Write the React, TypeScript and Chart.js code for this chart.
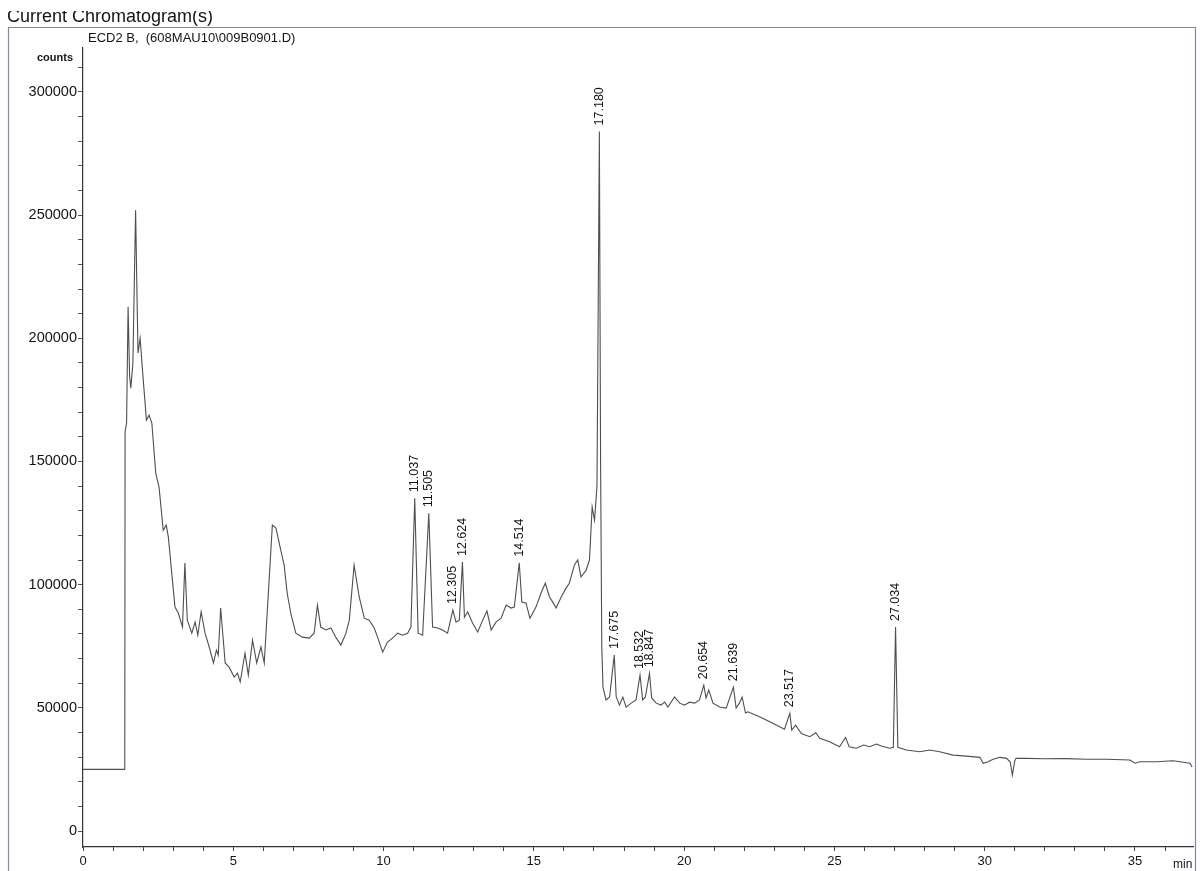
import React, { useEffect, useRef } from 'react';
import { Chart, registerables } from 'chart.js';

Chart.register(...registerables);

// Retention time (min)
const times = [
  0, 1.39, 1.40, 1.45, 1.50, 1.55, 1.59, 1.66, 1.75, 1.80, 1.83, 1.90, 1.98, 2.11, 2.20, 2.29, 2.42, 2.53,
  2.67, 2.77, 2.84, 3.06, 3.17, 3.31, 3.39, 3.47, 3.62, 3.73, 3.82, 3.93, 4.06, 4.20, 4.34, 4.44, 4.50,
  4.58, 4.73, 4.86, 5.03, 5.14, 5.23, 5.39, 5.50, 5.64, 5.78, 5.92, 6.03, 6.30, 6.42, 6.58, 6.69, 6.80,
  6.92, 7.08, 7.30, 7.53, 7.69, 7.80, 7.91, 8.08, 8.25, 8.41, 8.58, 8.75, 8.86, 9.02, 9.19, 9.36, 9.52,
  9.69, 9.80, 9.97, 10.13, 10.30, 10.47, 10.63, 10.80, 10.91, 11.037, 11.15, 11.30, 11.505, 11.63, 11.80,
  11.96, 12.13, 12.305, 12.41, 12.52, 12.624, 12.69, 12.80, 12.96, 13.13, 13.30, 13.44, 13.58, 13.74,
  13.91, 14.08, 14.24, 14.35, 14.514, 14.60, 14.74, 14.87, 15.07, 15.24, 15.38, 15.52, 15.63, 15.74,
  15.91, 16.07, 16.18, 16.35, 16.46, 16.57, 16.74, 16.85, 16.94, 17.02, 17.10, 17.18, 17.22, 17.26, 17.30,
  17.40, 17.52, 17.675, 17.74, 17.85, 17.96, 18.07, 18.24, 18.40, 18.532, 18.62, 18.71, 18.847, 18.92,
  19.07, 19.23, 19.35, 19.46, 19.68, 19.85, 20.01, 20.18, 20.35, 20.51, 20.654, 20.73, 20.82, 20.96,
  21.18, 21.40, 21.639, 21.73, 21.84, 21.93, 22.04, 22.12, 22.51, 22.95, 23.34, 23.517, 23.58, 23.71,
  23.90, 24.18, 24.38, 24.51, 24.84, 25.17, 25.37, 25.49, 25.73, 25.97, 26.17, 26.40, 26.56, 26.84,
  26.96, 27.034, 27.11, 27.39, 27.84, 28.17, 28.50, 28.95, 29.39, 29.84, 29.95, 30.11, 30.28, 30.50,
  30.73, 30.85, 30.92, 31.00, 31.04, 31.39, 32.00, 32.70, 33.40, 34.05, 34.83, 35.00, 35.16, 35.72,
  36.27, 36.83, 36.90,
];

// Detector response (counts)
const counts = [
  25000, 25000, 162000, 165600, 212800, 185000, 179800, 189900, 252000, 215000, 194000, 200000, 187000,
  166800, 168800, 165600, 145300, 139600, 122100, 124200, 119300, 90900, 88500, 82800, 108800, 85600,
  80300, 84800, 79500, 88900, 80300, 74700, 68200, 73400, 71400, 90500, 68200, 66500, 62500, 64100,
  60500, 72200, 63300, 77500, 68200, 74700, 68200, 124200, 123000, 114000, 108000, 96000, 88000, 80300,
  78700, 78300, 80300, 91700, 82800, 81600, 82400, 78700, 75500, 80300, 85600, 107900, 95000, 86400,
  85600, 82400, 78700, 72600, 76700, 78300, 80300, 79500, 80300, 82800, 135100, 80300, 79500, 129000,
  82800, 82400, 81600, 80300, 89700, 84800, 85600, 109200, 86800, 88900, 84400, 80800, 85600, 89300,
  81600, 84800, 86400, 91700, 90500, 90900, 108900, 92900, 92500, 86400, 90900, 96600, 100600, 95000,
  92900, 90500, 95000, 98600, 100600, 108000, 110000, 103100, 105900, 110000, 131500, 126200, 140000,
  284000, 150000, 75000, 58400, 53200, 54400, 71400, 54400, 51100, 54400, 50300, 51900, 53200, 63300,
  53200, 54400, 64000, 54000, 51900, 51100, 52300, 50300, 54400, 51900, 51100, 52300, 51900, 53200,
  59200, 54000, 57200, 51900, 50300, 49900, 58400, 49900, 51900, 54400, 47900, 48400, 46400, 43700,
  41300, 47800, 41000, 43000, 39600, 38300, 39900, 37600, 36200, 34200, 38000, 34200, 33600, 34900,
  34200, 35300, 34500, 33600, 34000, 82800, 34000, 32900, 32200, 32900, 32200, 30800, 30400, 29900,
  27500, 28100, 29100, 29900, 29500, 28000, 22700, 28500, 29500, 29500, 29300, 29400, 29100, 29100,
  28800, 27500, 28100, 28100, 28500, 27500, 26000,
];

// Integrated peaks
const peakLabels = ['11.037', '11.505', '12.305', '12.624', '14.514', '17.180', '17.675', '18.532', '18.847', '20.654', '21.639', '23.517', '27.034'];
const peakTimes = [11.037, 11.505, 12.305, 12.624, 14.514, 17.18, 17.675, 18.532, 18.847, 20.654, 21.639, 23.517, 27.034];
const peakCounts = [135100, 129000, 89700, 109200, 108900, 284000, 71400, 63300, 64000, 59200, 58400, 47800, 82800];

const xMajorTicks = [0, 5, 10, 15, 20, 25, 30, 35];
const yMajorTicks = [0, 50000, 100000, 150000, 200000, 250000, 300000];
const yMinorStep = 10000;
const yTickTop = 310000;

const titleText = 'Current Chromatogram(s)';
const signalText = 'ECD2 B,  (608MAU10\\009B0901.D)';
const yUnit = 'counts';
const xUnit = 'min';

const FONT = '"Liberation Sans", Arial, Helvetica, sans-serif';

const decorPlugin = {
  id: 'decor',
  beforeDraw(chart: any) {
    const { ctx } = chart;
    ctx.save();
    ctx.strokeStyle = '#8a86a0';
    ctx.lineWidth = 1.2;
    ctx.beginPath();
    ctx.moveTo(8.5, 871);
    ctx.lineTo(8.5, 27.5);
    ctx.lineTo(1195.5, 27.5);
    ctx.lineTo(1195.5, 871);
    ctx.stroke();
    ctx.restore();
  },
  afterDraw(chart: any) {
    const { ctx, scales } = chart;
    const xs = scales.x;
    const ys = scales.y;
    ctx.save();
    ctx.fillStyle = '#141414';
    ctx.textBaseline = 'alphabetic';
    ctx.textAlign = 'left';

    // title, top of it cut off as on the printed page
    ctx.save();
    ctx.beginPath();
    ctx.rect(0, 11, 1202, 16);
    ctx.clip();
    ctx.font = `18px ${FONT}`;
    ctx.fillText(titleText, 7, 22);
    ctx.restore();

    ctx.font = `13px ${FONT}`;
    ctx.fillText(signalText, 88, 42);
    ctx.font = `bold 11px ${FONT}`;
    ctx.fillText(yUnit, 37, 61);
    ctx.font = `12px ${FONT}`;
    ctx.fillText(xUnit, 1173, 868);

    // peak labels
    ctx.font = `12.5px ${FONT}`;
    ctx.textBaseline = 'middle';
    for (let i = 0; i < peakTimes.length; i++) {
      const px = xs.getPixelForValue(peakTimes[i]);
      const py = ys.getPixelForValue(peakCounts[i]);
      ctx.save();
      ctx.translate(px, py - 6);
      ctx.rotate(-Math.PI / 2);
      ctx.fillText(peakLabels[i], 0, 0);
      ctx.restore();
    }
    ctx.restore();
  },
};

export default function App() {
  const ref = useRef<HTMLCanvasElement | null>(null);
  useEffect(() => {
    if (!ref.current) return;
    const chart = new Chart(ref.current, {
      type: 'scatter',
      data: {
        datasets: [
          {
            data: times.map((t, i) => ({ x: t, y: counts[i] })),
            showLine: true,
            borderColor: '#4f4f4f',
            borderWidth: 1.1,
            pointRadius: 0,
            tension: 0,
          },
        ],
      },
      options: {
        animation: false,
        responsive: false,
        devicePixelRatio: 1,
        layout: { padding: { top: 48, right: 9, bottom: 0, left: 0 } },
        plugins: { legend: { display: false }, tooltip: { enabled: false } },
        scales: {
          x: {
            type: 'linear',
            position: 'bottom',
            min: 0,
            max: 36.93,
            border: { display: true, color: '#333', width: 1.2 },
            grid: { drawOnChartArea: false, drawTicks: true, tickLength: 4, color: '#444' },
            ticks: {
              stepSize: 1,
              autoSkip: false,
              includeBounds: false,
              maxRotation: 0,
              padding: 3,
              color: '#141414',
              font: { size: 13, family: FONT },
              callback: (v: any) => (xMajorTicks.includes(Number(v)) ? String(v) : ''),
            },
            afterFit: (s: any) => {
              s.height = 24;
            },
          },
          y: {
            type: 'linear',
            position: 'left',
            min: -6495,
            max: 317860,
            border: { display: true, color: '#333', width: 1.2 },
            grid: {
              drawOnChartArea: false,
              drawTicks: true,
              tickLength: 5,
              color: '#555',
            },
            ticks: {
              autoSkip: false,
              padding: 1,
              color: '#141414',
              font: { size: 14.5, family: FONT },
              callback: (v: any) => (yMajorTicks.includes(Number(v)) ? String(v) : ''),
            },
            afterBuildTicks: (s: any) => {
              const ticks: { value: number }[] = [];
              for (let v = 0; v <= yTickTop; v += yMinorStep) ticks.push({ value: v });
              s.ticks = ticks;
            },
            afterFit: (s: any) => {
              s.width = 83;
            },
          },
        },
      },
      plugins: [decorPlugin],
    });
    return () => chart.destroy();
  }, []);
  return (
    <div style={{ position: 'absolute', left: 0, top: 0, width: 1202, height: 871, background: '#fff' }}>
      <canvas ref={ref} width={1202} height={871} style={{ display: 'block' }} />
    </div>
  );
}
